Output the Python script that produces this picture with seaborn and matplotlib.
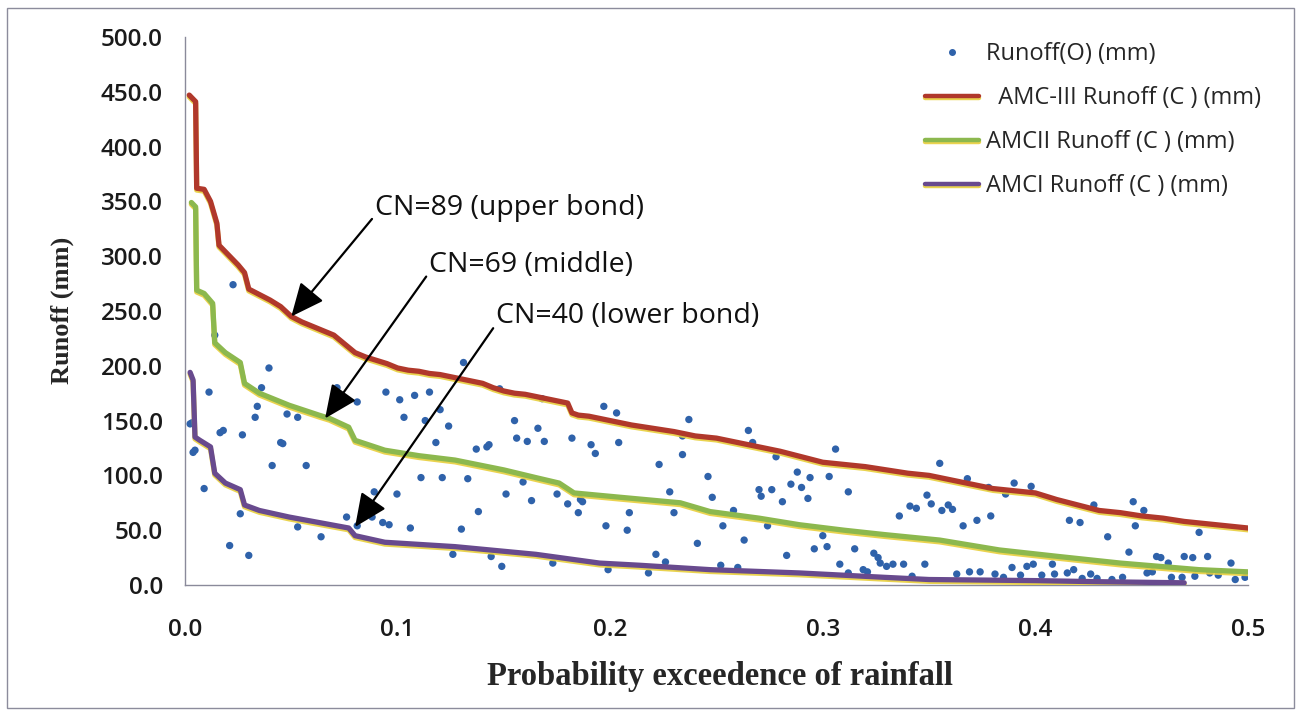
import numpy as np
import pandas as pd
import matplotlib
matplotlib.use("Agg")
import matplotlib.pyplot as plt
import matplotlib.patheffects as pe
from matplotlib.patches import Rectangle
from matplotlib.lines import Line2D
import seaborn as sns

# ---- computed runoff curves (probability of exceedance vs runoff, mm) ----
amc3_x = [0.002, 0.005, 0.0055, 0.009, 0.012, 0.015, 0.016, 0.020, 0.025, 0.028,
          0.030, 0.035, 0.040, 0.045, 0.050, 0.055, 0.060, 0.065, 0.070, 0.075,
          0.080, 0.085, 0.090, 0.095, 0.100, 0.105, 0.110, 0.115, 0.120, 0.125,
          0.130, 0.135, 0.140, 0.145, 0.150, 0.155, 0.160, 0.165, 0.170, 0.175,
          0.180, 0.182, 0.185, 0.190, 0.195, 0.200, 0.210, 0.220, 0.230, 0.240,
          0.250, 0.260, 0.270, 0.280, 0.290, 0.300, 0.310, 0.320, 0.330, 0.340,
          0.350, 0.360, 0.370, 0.380, 0.390, 0.400, 0.410, 0.420, 0.430, 0.440,
          0.450, 0.460, 0.470, 0.480, 0.490, 0.500]
amc3_y = [447, 441, 362, 361, 350, 330, 310, 302, 292, 285,
          270, 265, 260, 254, 245, 240, 236, 232, 228, 220,
          212, 208, 205, 202, 198, 196, 195, 193, 192, 190,
          188, 186, 184, 180, 177, 175, 174, 172, 170, 168,
          166, 157, 155, 154, 152, 150, 146, 143, 140, 136,
          134, 130, 126, 122, 117, 112, 110, 108, 105, 102,
          100, 96, 92, 88, 86, 84, 78, 73, 68, 66,
          63, 61, 58, 56, 54, 52]

amc2_x = [0.003, 0.005, 0.0055, 0.009, 0.013, 0.014, 0.019, 0.026, 0.028, 0.035,
          0.049, 0.063, 0.068, 0.077, 0.080, 0.094, 0.110, 0.127, 0.150, 0.165,
          0.176, 0.183, 0.205, 0.233, 0.247, 0.270, 0.289, 0.310, 0.329, 0.355,
          0.383, 0.411, 0.440, 0.477, 0.500]
amc2_y = [349, 345, 269, 266, 257, 221, 212, 203, 184, 175,
          164, 155, 152, 144, 132, 123, 118, 114, 105, 98,
          93, 84, 80, 75, 67, 61, 55, 50, 46, 41,
          32, 26, 20, 14, 12]

amc1_x = [0.0024, 0.0038, 0.0047, 0.007, 0.012, 0.014, 0.019, 0.026, 0.028, 0.035,
          0.049, 0.063, 0.077, 0.080, 0.094, 0.127, 0.165, 0.195, 0.214, 0.247,
          0.289, 0.329, 0.350, 0.400, 0.430, 0.470]
amc1_y = [194, 187, 135, 132, 126, 102, 93, 87, 73, 68,
          62, 57, 52, 45, 39, 35, 28, 20, 18, 14,
          11, 7, 5, 4, 3, 2]

# ---- observed runoff ----
obs_x = [0.0226, 0.014, 0.0395, 0.0113, 0.036, 0.034, 0.033, 0.048, 0.053, 0.0715,
         0.081, 0.0033, 0.0047, 0.0165, 0.018, 0.027, 0.045, 0.046, 0.041, 0.057,
         0.009, 0.026, 0.053, 0.076, 0.064, 0.021, 0.030, 0.0024, 0.0038,
         0.131, 0.148, 0.0945, 0.101, 0.108, 0.115, 0.120, 0.103, 0.113, 0.124,
         0.155, 0.156, 0.161, 0.118, 0.137, 0.142, 0.143, 0.111, 0.121, 0.133,
         0.159, 0.089, 0.0997, 0.151, 0.163, 0.138, 0.088, 0.093, 0.096, 0.106,
         0.130, 0.081, 0.126, 0.144, 0.149,
         0.168, 0.197, 0.203, 0.237, 0.166, 0.169, 0.182, 0.191, 0.193, 0.204,
         0.234, 0.234, 0.223, 0.246, 0.175, 0.180, 0.186, 0.187, 0.185, 0.209,
         0.228, 0.230, 0.198, 0.208, 0.241, 0.2215, 0.226, 0.173, 0.199, 0.218,
         0.265, 0.267, 0.306, 0.278, 0.288, 0.294, 0.303, 0.285, 0.290, 0.270,
         0.271, 0.276, 0.248, 0.281, 0.293, 0.312, 0.258, 0.253, 0.274, 0.263,
         0.300, 0.296, 0.302, 0.283, 0.315, 0.324, 0.326, 0.327, 0.308, 0.252,
         0.260, 0.312, 0.319, 0.321,
         0.355, 0.368, 0.378, 0.390, 0.398, 0.386, 0.349, 0.351, 0.341, 0.344,
         0.356, 0.359, 0.361, 0.336, 0.3725, 0.379, 0.366, 0.330, 0.333, 0.338,
         0.348, 0.342, 0.363, 0.369, 0.374, 0.381, 0.389, 0.396, 0.399, 0.393,
         0.403, 0.408, 0.409, 0.385,
         0.4275, 0.446, 0.451, 0.416, 0.421, 0.447, 0.477, 0.434, 0.444, 0.457,
         0.459, 0.4625, 0.470, 0.474, 0.481, 0.492, 0.494, 0.4986, 0.415, 0.418,
         0.422, 0.426, 0.429, 0.436, 0.441, 0.4525, 0.455, 0.464, 0.469, 0.475,
         0.482, 0.486]
obs_y = [274, 228, 198, 176, 180, 163, 153, 156, 153, 180,
         167, 148, 123, 139, 141, 137, 130, 129, 109, 109,
         88, 65, 53, 62, 44, 36, 27, 147, 121,
         203, 179, 176, 169, 173, 176, 160, 153, 150, 145,
         150, 134, 131, 130, 124, 126, 128, 98, 98, 97,
         94, 85, 83, 83, 77, 67, 62, 57, 55, 52,
         51, 54, 28, 26, 17,
         170, 163, 157, 151, 143, 131, 134, 128, 120, 130,
         136, 119, 110, 99, 83, 74, 78, 76, 66, 66,
         85, 66, 54, 50, 38, 28, 21, 20, 14, 11,
         141, 130, 124, 117, 103, 98, 99, 92, 89, 87,
         81, 87, 80, 76, 79, 85, 68, 54, 54, 41,
         45, 33, 35, 27, 33, 29, 25, 20, 19, 18,
         16, 11, 14, 12,
         111, 97, 89, 93, 90, 83, 82, 74, 72, 70,
         68, 73, 69, 63, 59, 63, 54, 17, 19, 19,
         19, 8, 10, 12, 12, 10, 16, 17, 19, 9,
         9, 19, 10, 7,
         73, 76, 68, 59, 57, 54, 48, 44, 30, 26,
         25, 20, 26, 25, 26, 20, 5, 7, 11, 14,
         6, 10, 6, 5, 7, 11, 12, 7, 7, 8,
         11, 9]

# ---- text ----
legend_labels = ["Runoff(O) (mm)", "  AMC-III Runoff (C ) (mm)",
                 "AMCII Runoff (C ) (mm)", "AMCI Runoff (C ) (mm)"]
y_ticks = [0, 50, 100, 150, 200, 250, 300, 350, 400, 450, 500]
x_ticks = [0.0, 0.1, 0.2, 0.3, 0.4, 0.5]
annotations = [("CN=89 (upper bond)", (0.050, 245), (0.0895, 344)),
               ("CN=69 (middle)", (0.0659, 152), (0.1150, 292)),
               ("CN=40 (lower bond)", (0.080, 53), (0.1465, 245))]

sns.set_theme(style="white")
plt.rcParams["font.family"] = ["Open Sans", "DejaVu Sans"]

W, H = 1303, 718
fig = plt.figure(figsize=(W / 100, H / 100), dpi=100)
fig.patch.set_facecolor("white")
ax = fig.add_axes([185 / W, 1 - 585 / H, (1248 - 185) / W, (585 - 37) / H])

c_red = "#b0382b"
c_green = "#8cb84e"
c_purple = "#684a8e"
c_blue = "#2f62aa"
glow = [pe.SimpleLineShadow(offset=(0, -1.3), shadow_color="#e8cf3c", alpha=0.9, rho=1.0),
        pe.Normal()]

obs = pd.DataFrame({"p": obs_x, "runoff": obs_y})
sns.scatterplot(data=obs, x="p", y="runoff", ax=ax, color=c_blue, s=28,
                edgecolor="none", zorder=2, legend=False)

curves = [(amc3_x, amc3_y, c_red), (amc2_x, amc2_y, c_green), (amc1_x, amc1_y, c_purple)]
for cx, cy, col in curves:
    df = pd.DataFrame({"p": cx, "runoff": cy})
    sns.lineplot(data=df, x="p", y="runoff", ax=ax, color=col, linewidth=3.8,
                 estimator=None, sort=True, zorder=3, legend=False,
                 path_effects=glow)

ax.set_xlim(0, 0.5)
ax.set_ylim(0, 500)
ax.set_xticks(x_ticks)
ax.set_yticks(y_ticks)
ax.set_xticklabels([f"{v:.1f}" for v in x_ticks])
ax.set_yticklabels([f"{v:.1f}" for v in y_ticks])
ax.tick_params(axis="x", length=0, pad=24, labelsize=17.5, labelcolor="#1a1a1a")
ax.tick_params(axis="y", length=0, pad=16, labelsize=17.5, labelcolor="#1a1a1a")
for lab in ax.get_xticklabels() + ax.get_yticklabels():
    lab.set_fontweight("semibold")

for side in ["top", "right"]:
    ax.spines[side].set_visible(False)
for side in ["left", "bottom"]:
    ax.spines[side].set_color("#8a8a9a")
    ax.spines[side].set_linewidth(1.0)
ax.grid(False)

ax.set_xlabel("Probability exceedence of rainfall", family="Liberation Serif",
              fontweight="bold", fontsize=23.5, va="center")
ax.set_ylabel("Runoff (mm)", family="Liberation Serif", fontweight="bold",
              fontsize=19, va="center")
ax.xaxis.set_label_coords((720 - 185) / (1248 - 185), (585 - 677) / (585 - 37))
ax.yaxis.set_label_coords((62 - 185) / (1248 - 185), (585 - 310) / (585 - 37))

for text, tip, txt in annotations:
    ax.annotate(text, xy=tip, xytext=txt, ha="left", va="center", fontsize=20.5,
                color="#111111",
                arrowprops=dict(arrowstyle="-|>,head_length=1.0,head_width=0.45",
                                color="black", lw=1.6, shrinkA=0, shrinkB=0,
                                relpos=(0, 0.25)))

handles = [Line2D([], [], ls="none", marker="o", ms=4, color=c_blue),
           Line2D([], [], color=c_red, lw=3.2, path_effects=glow),
           Line2D([], [], color=c_green, lw=3.2, path_effects=glow),
           Line2D([], [], color=c_purple, lw=3.2, path_effects=glow)]
fig.legend(handles, legend_labels, loc="upper left",
           bbox_to_anchor=(925 / W, 1 - 42 / H), bbox_transform=fig.transFigure,
           frameon=False, fontsize=17, handlelength=2.3, handletextpad=0.3,
           labelspacing=0.85, borderpad=0, borderaxespad=0)

fig.patches.append(Rectangle((7 / W, 1 - 708 / H), (1294 - 7) / W, (708 - 8) / H,
                             transform=fig.transFigure, fill=False,
                             edgecolor="#8c8c9c", lw=1.0))

fig.savefig("out.png", dpi=100)
